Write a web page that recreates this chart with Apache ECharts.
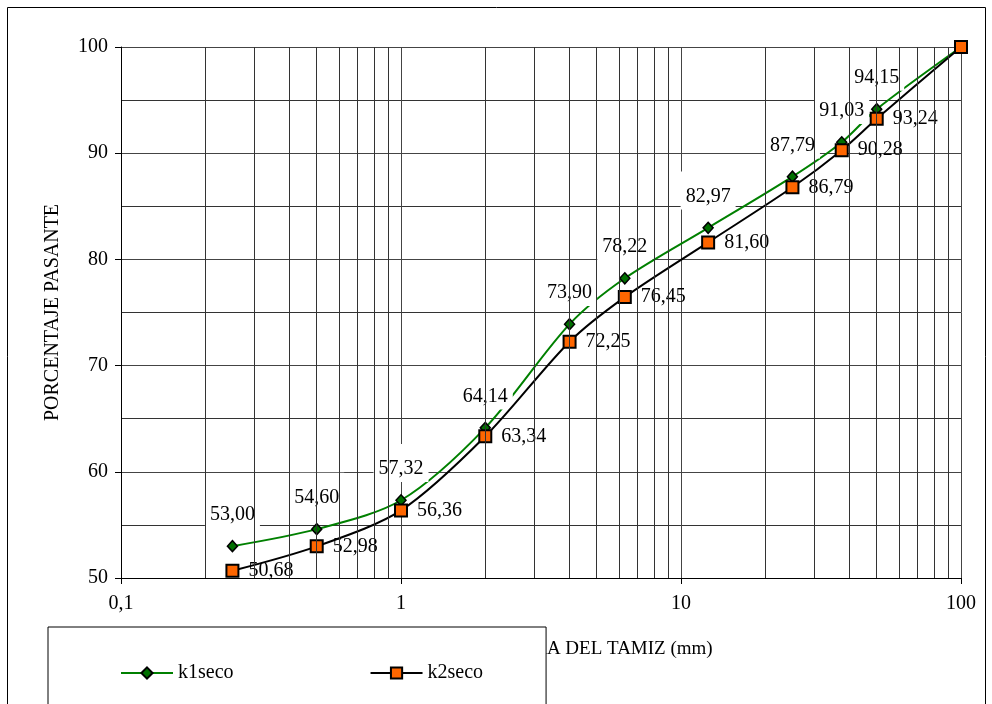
<!DOCTYPE html>
<html>
<head>
<meta charset="utf-8">
<script src="https://cdn.jsdelivr.net/npm/echarts@6/dist/echarts.min.js"></script>
<style>
  html, body { margin: 0; padding: 0; background: #fff; }
  #chart { width: 992px; height: 704px; }
</style>
</head>
<body>
<div id="chart"></div>
<script>
// Sieve openings (mm) and percentage passing for each sample
const sieveSizes = [0.25, 0.5, 1, 2, 4, 6.3, 12.5, 25, 37.5, 50, 100];
const k1seco = [53.00, 54.60, 57.32, 64.14, 73.90, 78.22, 82.97, 87.79, 91.03, 94.15, 100];
const k2seco = [50.68, 52.98, 56.36, 63.34, 72.25, 76.45, 81.60, 86.79, 90.28, 93.24, 100];
const seriesNames = ['k1seco', 'k2seco'];

// Logarithmic minor grid: 2..9 in every decade between 0.1 and 100
const minorGrid = [];
[0.1, 1, 10].forEach(function (d) {
  for (let m = 2; m <= 9; m++) minorGrid.push(+(d * m).toPrecision(3));
});

const FONT = 'Liberation Serif';
const fmt = v => v.toFixed(2).replace('.', ',');

function points(values) {
  return sieveSizes.map(function (x, i) {
    const item = { value: [x, values[i]] };
    if (i === sieveSizes.length - 1) item.label = { show: false };
    return item;
  });
}

const chart = echarts.init(document.getElementById('chart'), null, { renderer: 'canvas' });

chart.setOption({
  backgroundColor: '#fff',
  animation: false,
  textStyle: { fontFamily: FONT, color: '#000' },
  graphic: [{
    type: 'rect',
    z: 100,
    silent: true,
    shape: { x: 7.5, y: 7.5, width: 978, height: 710 },
    style: { fill: 'none', stroke: '#000', lineWidth: 1 }
  }],
  grid: { left: 121, right: 31, top: 47, bottom: 126, containLabel: false },
  legend: {
    data: seriesNames,
    left: 48,
    top: 627,
    orient: 'horizontal',
    padding: [36, 63, 24, 72],
    itemGap: 136,
    itemWidth: 52,
    itemHeight: 14,
    borderColor: '#000',
    borderWidth: 1,
    backgroundColor: '#fff',
    z: 10,
    textStyle: { fontFamily: FONT, fontSize: 20, color: '#000' }
  },
  xAxis: {
    type: 'log',
    logBase: 10,
    min: 0.1,
    max: 100,
    name: 'ABERTURA DEL TAMIZ (mm)',
    nameLocation: 'middle',
    nameGap: 62,
    nameTextStyle: { fontFamily: FONT, fontSize: 19, color: '#000', padding: [0, 0, 0, 90] },
    axisLine: { show: true, lineStyle: { color: '#000', width: 1 } },
    axisTick: { show: true, inside: false, length: 6, lineStyle: { color: '#000' } },
    axisLabel: {
      fontFamily: FONT, fontSize: 20, color: '#000', margin: 16,
      formatter: v => String(v).replace('.', ',')
    },
    splitLine: { show: true, lineStyle: { color: '#444', width: 1 } }
  },
  yAxis: {
    type: 'value',
    min: 50,
    max: 100,
    interval: 10,
    name: 'PORCENTAJE PASANTE',
    nameLocation: 'middle',
    nameRotate: 90,
    nameGap: 58,
    nameTextStyle: { fontFamily: FONT, fontSize: 20, color: '#000' },
    axisLine: { show: true, lineStyle: { color: '#000', width: 1 } },
    axisTick: { show: true, inside: false, length: 6, lineStyle: { color: '#000' } },
    axisLabel: { fontFamily: FONT, fontSize: 20, color: '#000', margin: 13 },
    splitLine: { show: true, lineStyle: { color: '#444', width: 1 } },
    minorTick: { show: false, splitNumber: 2 },
    minorSplitLine: { show: true, lineStyle: { color: '#333', width: 1 } }
  },
  series: [
    {
      // carries the logarithmic minor grid lines
      name: 'grid',
      type: 'line',
      data: [],
      z: 1,
      silent: true,
      markLine: {
        silent: true,
        animation: false,
        symbol: ['none', 'none'],
        label: { show: false },
        emphasis: { disabled: true },
        lineStyle: { color: '#333', width: 1, type: 'solid' },
        data: minorGrid.map(v => ({ xAxis: v }))
      }
    },
    {
      name: seriesNames[0],
      type: 'line',
      z: 3,
      data: points(k1seco),
      smooth: 0.3,
      symbol: 'diamond',
      symbolSize: [10, 11],
      lineStyle: { color: '#008000', width: 2 },
      itemStyle: { color: '#007000', borderColor: '#000', borderWidth: 1.5 },
      emphasis: { disabled: true },
      label: {
        show: true,
        position: 'top',
        distance: 12,
        fontFamily: FONT,
        fontSize: 20,
        color: '#000',
        backgroundColor: '#fff',
        padding: [15, 5, 3, 5],
        formatter: p => fmt(p.value[1])
      }
    },
    {
      name: seriesNames[1],
      type: 'line',
      z: 4,
      data: points(k2seco),
      smooth: 0.3,
      symbol: 'rect',
      symbolSize: 12,
      lineStyle: { color: '#000', width: 2 },
      itemStyle: { color: '#ff6600', borderColor: '#000', borderWidth: 2 },
      emphasis: { disabled: true },
      label: {
        show: true,
        position: 'right',
        distance: 9,
        fontFamily: FONT,
        fontSize: 20,
        color: '#000',
        formatter: p => fmt(p.value[1])
      }
    }
  ]
});
</script>
</body>
</html>
